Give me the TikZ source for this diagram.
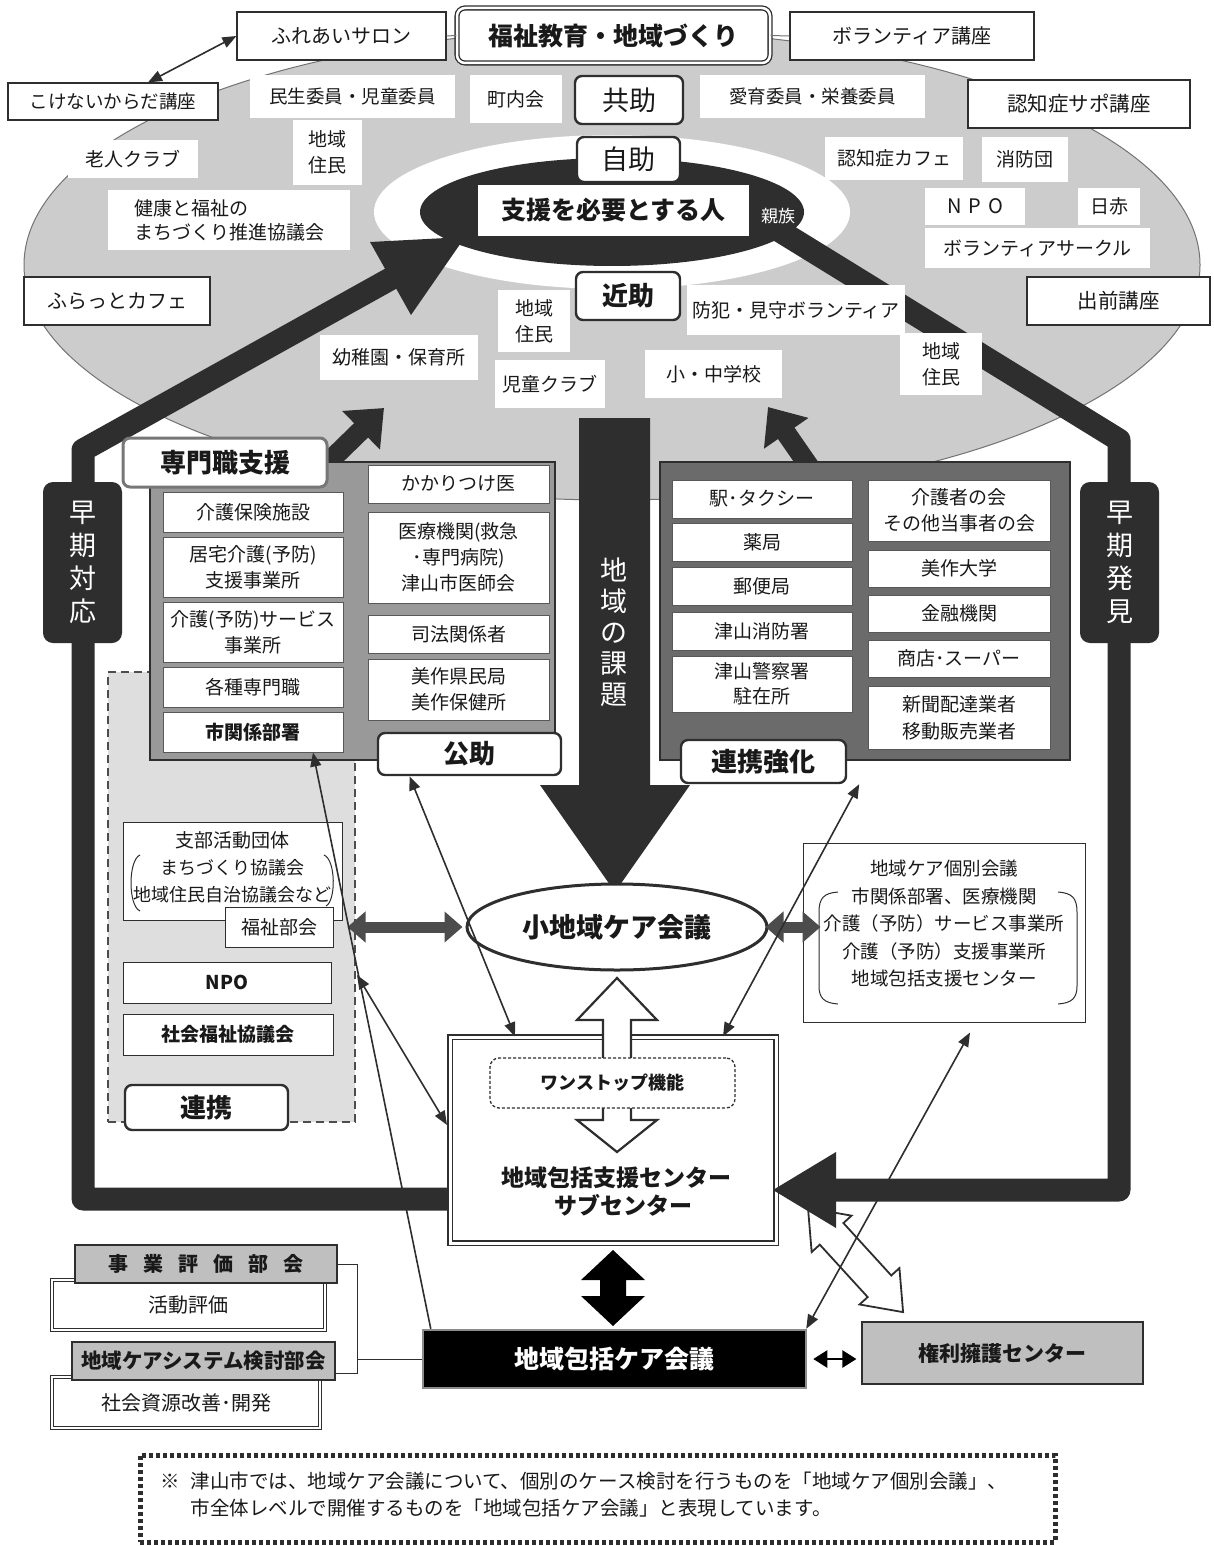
\documentclass[tikz,border=0pt]{standalone}
\usepackage{fontspec}
\setmainfont{Noto Sans CJK JP}
\usetikzlibrary{fit,arrows.meta,shapes.geometric}
\definecolor{dk}{gray}{0.18}
\definecolor{ellg}{gray}{0.8}
\definecolor{pnl}{gray}{0.6}
\definecolor{pnr}{gray}{0.42}
\definecolor{dsh}{gray}{0.87}
\definecolor{txt}{gray}{0.1}
\newcommand\Bx[7]{\node[#1, anchor=center, minimum width={#5pt-#3pt}, minimum height={#6pt-#4pt}] (#2) at ({(#3+#5)/2},{(#4+#6)/2}) {#7};}
\begin{document}
\begin{tikzpicture}[x=1pt,y=-1pt,
  fs/.style 2 args={font=\fontsize{#1}{#2}\selectfont},
  fb/.style 2 args={font=\fontsize{#1}{#2}\selectfont\bfseries},
  wl/.style={fill=white, inner sep=0pt, align=center, text=txt, fs={19}{25}},
  bx/.style={wl, draw=dk, line width=1.2pt},
  pb/.style={wl, draw=dk!80, line width=1pt},
  tag/.style={fill=white, draw=dk, line width=2.4pt, rounded corners=7pt, inner sep=0pt, align=center, text=txt, fb={26}{30}},
  rtag/.style={tag, fs={27}{30}},
  vtag/.style={fill=dk, rounded corners=10pt, inner sep=0pt, text=white, align=center, fs={27}{33}},
  bar/.style={line width=23pt, draw=dk, line join=round},
  parrow/.style={line width=20pt, draw=dk, -{Triangle[length=32pt,width=52pt]}},
  tarrow/.style={line width=1.6pt, draw=dk, -{Triangle[length=14pt,width=11pt]}},
  tdarrow/.style={line width=1.6pt, draw=dk, {Triangle[length=14pt,width=11pt]}-{Triangle[length=14pt,width=11pt]}},
  garrow/.style={line width=11pt, draw=black!70, {Triangle[length=18pt,width=30pt]}-{Triangle[length=18pt,width=30pt]}},
  hollow/.style={fill=white, draw=dk, line width=2.2pt, line join=miter},
]
\useasboundingbox (0,0) rectangle (1213,1546);
\fill[white] (0,0) rectangle (1213,1546);

% ---------- top ellipse ----------
\path[fill=ellg, draw=black!55, line width=1pt] (612,265) ellipse [x radius=588pt, y radius=235pt];
\fill[white] (612,212) ellipse [x radius=238pt, y radius=77pt];
\fill[dk] (612,212) ellipse [x radius=192pt, y radius=54pt];

% ---------- thick loop bars ----------
\draw[bar] (455,1199) -- (83,1199) -- (83,450) -- (392,278);
\fill[dk] (465,237) -- (411,315) -- (370,242) -- cycle;
\draw[bar] (775,228) -- (1119,440) -- (1119,1190) -- (830,1190);

% ---------- top row ----------
\Bx{bx, fs={20}{24}}{salon}{237}{12}{446}{60}{ふれあいサロン}
\Bx{wl, draw=dk, double, double distance=2.5pt, line width=1.3pt, rounded corners=8pt, fb={25}{30}}{fukushi0}{457}{8}{770}{63}{福祉教育・地域づくり}
\Bx{bx, fs={20}{24}}{vkoza}{790}{12}{1034}{60}{ボランティア講座}
\Bx{bx, fs={18.5}{22}}{kokenai}{8}{83}{218}{120}{こけないからだ講座}
\Bx{bx, fs={20.5}{24}}{ninchikoza}{968}{80}{1190}{128}{認知症サポ講座}
\Bx{bx, fs={20}{24}}{furatto}{24}{277}{210}{325}{ふらっとカフェ}
\Bx{bx, fs={20.5}{24}}{demae}{1027}{277}{1210}{325}{出前講座}
\draw[line width=1pt, black!55] (salon.east) -- (fukushi0.west);
\draw[line width=1pt, black!55] (fukushi0.east) -- (vkoza.west);
\draw[tdarrow] ([xshift=35pt]kokenai.north) -- (salon.west);

% ---------- labels inside ellipse ----------
\Bx{wl, fs={18.5}{22}}{minsei}{250}{75}{455}{118}{民生委員・児童委員}
\Bx{wl}{chonai}{470}{75}{562}{123}{町内会}
\Bx{rtag}{kyojo}{575}{76}{683}{124}{共助}
\Bx{wl, fs={18.5}{22}}{aiiku}{700}{75}{925}{118}{愛育委員・栄養委員}
\Bx{wl, fs={19}{26}}{jumin1}{293}{120}{362}{185}{地域\\住民}
\Bx{wl}{rojin}{68}{140}{198}{178}{老人クラブ}
\Bx{rtag}{jijo}{577}{137}{680}{182}{自助}
\Bx{wl}{ncafe}{825}{137}{963}{180}{認知症カフェ}
\Bx{wl}{shobo}{982}{137}{1068}{182}{消防団}
\Bx{wl, align=left, fs={19}{24}}{kenko}{108}{190}{350}{250}{健康と福祉の\\まちづくり推進協議会}
\Bx{wl, fb={25}{30}}{shien}{478}{185}{749}{236}{支援を必要とする人}
\node[text=white, fs={17}{20}] (shinzoku) at (778,216) {親族};
\Bx{wl, fs={20}{24}}{npo1}{925}{188}{1025}{225}{N\hspace{7pt}P\hspace{7pt}O}
\Bx{wl}{nisseki}{1078}{188}{1140}{225}{日赤}
\Bx{wl}{vcircle}{925}{228}{1150}{268}{ボランティアサークル}
\Bx{tag}{kinjo}{576}{272}{680}{320}{近助}
\Bx{wl, fs={19}{26}}{jumin2}{498}{290}{570}{352}{地域\\住民}
\Bx{wl}{bohan}{687}{285}{905}{335}{防犯・見守ボランティア}
\Bx{wl}{yochien}{320}{335}{478}{380}{幼稚園・保育所}
\Bx{wl}{jido}{495}{360}{605}{408}{児童クラブ}
\Bx{wl}{shochu}{645}{350}{782}{398}{小・中学校}
\Bx{wl, fs={19}{26}}{jumin3}{900}{333}{982}{395}{地域\\住民}

% ---------- 地域の課題 arrow ----------
\fill[dk] (579,418) -- (650,418) -- (650,785) -- (690,785) -- (615,892) -- (540,785) -- (579,785) -- cycle;
\node[fs={27}{31}, text=white, align=center] (kadai) at (614,632) {地\\域\\の\\課\\題};

% ---------- panel arrows ----------
\coordinate (pa1s) at (305,485);
\coordinate (pa1) at (384,408);
\coordinate (pa2s) at (822,485);
\coordinate (pa2) at (768,407);
\draw[parrow] (pa1s) -- (pa1);
\draw[parrow] (pa2s) -- (pa2);

% ---------- dashed 連携 region ----------
\node[fill=dsh, draw=dk!85, dash pattern=on 8pt off 5pt, line width=1.8pt, fit={(108,672) (355,1122)}, inner sep=0pt] (renkeiA) {};

% ---------- left panel ----------
\node[fill=pnl, draw=dk, line width=1.2pt, fit={(150,462) (555,760)}, inner sep=0pt] (pl) {};
\Bx{pb}{p1}{163}{492}{343}{532}{介護保険施設}
\Bx{pb, fs={19}{26}}{p2}{163}{537}{343}{597}{居宅介護(予防)\\支援事業所}
\Bx{pb, fs={19}{26}}{p3}{163}{602}{343}{662}{介護(予防)サービス\\事業所}
\Bx{pb}{p4}{163}{667}{343}{707}{各種専門職}
\Bx{pb, fb={19}{24}}{sekan}{163}{712}{343}{752}{市関係部署}
\Bx{pb}{p6}{368}{465}{549}{503}{かかりつけ医}
\Bx{pb, fs={19}{26}}{p7}{368}{512}{549}{603}{医療機関(救急\\･専門病院)\\津山市医師会}
\Bx{pb}{p8}{368}{615}{549}{653}{司法関係者}
\Bx{pb, fs={19}{26}}{p9}{368}{659}{549}{720}{美作県民局\\美作保健所}
\Bx{tag, draw=dk!65, line width=3pt}{senmon}{123}{438}{327}{487}{専門職支援}
\Bx{tag}{kojo}{378}{733}{561}{775}{公助}

% ---------- right panel ----------
\node[fill=pnr, draw=dk, line width=1.2pt, fit={(660,462) (1070,760)}, inner sep=0pt] (pr) {};
\Bx{pb}{q1}{672}{480}{852}{518}{駅･タクシー}
\Bx{pb}{q2}{672}{523}{852}{561}{薬局}
\Bx{pb}{q3}{672}{567}{852}{605}{郵便局}
\Bx{pb}{q4}{672}{612}{852}{650}{津山消防署}
\Bx{pb, fs={19}{25}}{q5}{672}{656}{852}{712}{津山警察署\\駐在所}
\Bx{pb, fs={19}{26}}{q6}{868}{480}{1050}{541}{介護者の会\\その他当事者の会}
\Bx{pb}{q7}{868}{550}{1050}{587}{美作大学}
\Bx{pb}{q8}{868}{595}{1050}{632}{金融機関}
\Bx{pb}{q9}{868}{640}{1050}{677}{商店･スーパー}
\Bx{pb, fs={19}{27}}{q10}{868}{686}{1050}{749}{新聞配達業者\\移動販売業者}
\Bx{tag}{renkei2}{681}{740}{846}{783}{連携強化}

% ---------- side tags ----------
\Bx{vtag}{soki1}{43}{482}{122}{643}{早\\期\\対\\応}
\Bx{vtag}{soki2}{1080}{482}{1159}{643}{早\\期\\発\\見}

% ---------- 連携 contents ----------
\Bx{bx, line width=1pt, fs={18}{27}}{shibu}{123}{822}{342}{920}{\fontsize{19}{27}\selectfont 支部活動団体\\まちづくり協議会\\地域住民自治協議会など\\[-18pt]}
\draw[dk, line width=1pt] (140,855) .. controls (128,860) and (128,906) .. (140,911);
\draw[dk, line width=1pt] (324,855) .. controls (336,860) and (336,901) .. (326,906);
\Bx{bx, line width=1pt}{fukushi}{225}{907}{333}{947}{福祉部会}
\Bx{bx, line width=1pt, fb={19}{24}}{npo2}{123}{962}{331}{1003}{NPO}
\Bx{bx, line width=1pt, fb={19}{24}}{shakyo}{123}{1014}{333}{1055}{社会福祉協議会}
\Bx{tag}{renkei}{125}{1085}{288}{1130}{連携}

% ---------- 小地域ケア会議 ----------
\node[ellipse, draw=dk, line width=3pt, fill=white, minimum width=300pt, minimum height=86pt, inner sep=0pt, fb={27}{30}, text=txt] (shochiiki) at (617,927) {小地域ケア会議};
\draw[garrow] ([xshift=14pt]fukushi.east) -- ([xshift=-3pt]fukushi.east -| shochiiki.west);

% ---------- 地域ケア個別会議 ----------
\Bx{bx, line width=1pt, fs={18.5}{27.5}}{kobetsu}{803}{843}{1085}{1022}{地域ケア個別会議\\市関係部署、医療機関\\介護（予防）サービス事業所\\介護（予防）支援事業所\\地域包括支援センター\\[-8pt]}
\draw[dk, line width=1pt] (838,892) .. controls (824,893) and (819,898) .. (819,912) -- (819,986) .. controls (819,998) and (824,1003) .. (838,1004);
\draw[dk, line width=1pt] (1058,892) .. controls (1072,893) and (1077,898) .. (1077,912) -- (1077,986) .. controls (1077,998) and (1072,1003) .. (1058,1004);
\draw[garrow] ([xshift=-3pt]shochiiki.east) -- ([xshift=18pt]shochiiki.east -| kobetsu.west);

% ---------- center box ----------
\node[draw=dk, double, double distance=3pt, line width=1.2pt, fill=white, fit={(450,1037) (776,1243)}, inner sep=0pt] (center) {};
\node[fb={23}{28}, align=center, text=txt] (centertxt) at (616,1191) {地域包括支援センター\\\hspace*{14pt}サブセンター};
\filldraw[hollow] (603,1072) -- (603,1020) -- (577,1020) -- (617,978) -- (657,1020) -- (631,1020) -- (631,1072) -- cycle;
\filldraw[hollow] (603,1098) -- (603,1120) -- (577,1120) -- (617,1152) -- (657,1120) -- (631,1120) -- (631,1098) -- cycle;
\Bx{wl, draw=dk, dash pattern=on 3pt off 2pt, line width=1.3pt, rounded corners=9pt, fb={18}{22}}{onestop}{490}{1058}{735}{1108}{ワンストップ機能}

% ---------- 地域包括ケア会議 ----------
\Bx{draw=black!45, line width=2.5pt, fill=black, inner sep=0pt, text=white, fb={25}{30}}{kaigi}{423}{1330}{806}{1388}{地域包括ケア会議}
\fill[black] (613,1250) -- (645,1280) -- (626,1280) -- (626,1296) -- (645,1296) -- (613,1326) -- (581,1296) -- (600,1296) -- (600,1280) -- (581,1280) -- cycle;
\Bx{bx, fill=black!25, fb={21}{25}}{kenri}{862}{1322}{1143}{1384}{権利擁護センター}
\draw[line width=2.5pt, draw=black, {Triangle[length=14pt,width=17pt]}-{Triangle[length=14pt,width=17pt]}] ([xshift=6pt]kaigi.east) -- ([xshift=-5pt]kaigi.east -| kenri.west);

% hollow double arrow towards 権利擁護センター
\begin{scope}[shift={(808,1208)}, rotate=-47.6]
\filldraw[hollow, line width=1.8pt] (0,0) -- (35,-27) -- (35,-16) -- (106,-16) -- (106,-27) -- (141,0) -- (106,27) -- (106,16) -- (35,16) -- (35,27) -- cycle;
\end{scope}
\fill[dk] (773,1190) -- (836,1152) -- (836,1228) -- cycle;

% ---------- bottom left ----------
\Bx{bx, double, double distance=2pt, line width=1pt, fs={20}{24}}{katsudo}{52}{1280}{325}{1330}{\raisebox{-3pt}{活動評価}}
\Bx{bx, fill=black!25, fb={20}{24}}{jigyo}{75}{1245}{337}{1283}{事\hspace{15pt}業\hspace{15pt}評\hspace{15pt}価\hspace{15pt}部\hspace{15pt}会}
\Bx{bx, double, double distance=2pt, line width=1pt, fs={20}{24}}{shigen}{52}{1377}{320}{1428}{\raisebox{-3pt}{社会資源改善･開発}}
\Bx{bx, fill=black!25, fb={20.5}{24}}{system}{72}{1342}{335}{1380}{地域ケアシステム検討部会}
\coordinate (brk) at (357,1359);
\draw[dk, line width=1pt] (jigyo.east) -- (357,1264) -- (357,1373) -- (335,1373);
\draw[dk, line width=1pt] (brk) -- (kaigi.west);

% ---------- thin arrows ----------
\coordinate (b1) at (357,975);
\coordinate (b2) at (447,1125);
\draw[tarrow] ([xshift=9pt]kaigi.north west) -- ([xshift=60pt]sekan.south);
\draw[tdarrow] (b1) -- (b2);
\draw[tdarrow] ([xshift=-60pt]kojo.south) -- ([xshift=-98pt]center.north);
\draw[tdarrow] ([xshift=12pt]renkei2.south east) -- ([xshift=110pt]center.north);
\draw[tdarrow] ([xshift=-1pt]kaigi.north east) -- ([shift={(26pt,-10pt)}]kobetsu.south);

% ---------- note ----------
\node[draw=dk, line width=5pt, dash pattern=on 4pt off 3pt, fit={(140,1455) (1055,1542)}, inner sep=0pt] (note) {};
\node[anchor=north west, align=left, fs={19.5}{27}, text=txt] (notetxt) at (157,1468) {\makebox[30pt][l]{※}津山市では、地域ケア会議について、個別のケース検討を行うものを「地域ケア個別会議」、\\\hspace*{30pt}市全体レベルで開催するものを「地域包括ケア会議」と表現しています。};
\end{tikzpicture}
\end{document}
